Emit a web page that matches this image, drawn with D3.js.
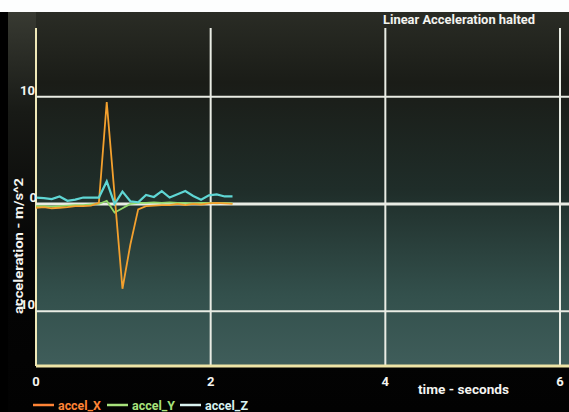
<!DOCTYPE html>
<html>
<head>
<meta charset="utf-8">
<script src="https://cdn.jsdelivr.net/npm/d3@7"></script>
<style>
  body { margin: 0; background: #000; }
  svg { display: block; }
  text { font-family: Roboto, "Liberation Sans", sans-serif; font-weight: bold; }
</style>
</head>
<body>
<div id="chart"></div>
<script>
// data
var times  = [0, 0.09, 0.18, 0.27, 0.36, 0.45, 0.54, 0.63, 0.72, 0.81, 0.90, 0.99, 1.08,
              1.17, 1.26, 1.35, 1.44, 1.53, 1.62, 1.71, 1.80, 1.89, 1.98, 2.07, 2.16, 2.25];
var accelX = [-0.35, -0.3, -0.4, -0.35, -0.3, -0.2, -0.2, -0.15, 0.1, 9.5, 0.8, -7.9, -3.8,
              -0.5, -0.2, -0.15, -0.1, -0.1, 0.0, -0.1, 0.0, -0.05, 0.05, 0.1, 0.05, 0.0];
var accelY = [-0.2, -0.2, -0.25, -0.2, -0.15, -0.1, -0.1, -0.05, 0.0, 0.3, -0.8, -0.4, 0.0,
              0.1, 0.1, 0.15, 0.1, 0.15, 0.1, 0.1, 0.05, 0.1, 0.1, 0.05, 0.1, 0.05];
var accelZ = [0.6, 0.55, 0.45, 0.7, 0.3, 0.4, 0.6, 0.6, 0.6, 2.1, 0.0, 1.15, 0.25,
              0.15, 0.85, 0.65, 1.2, 0.6, 0.9, 1.2, 0.75, 0.4, 0.8, 0.9, 0.7, 0.7];

var xTicks = [0, 2, 4, 6];
var yTicks = [-10, 0, 10];
var seriesNames = ["accel_X", "accel_Y", "accel_Z"];
var lineColors = ["#f3a02e", "#92d86a", "#5fd6d4"];
var legendColors = ["#ff8436", "#a8e27c", "#d9f2f0"];

var width = 569, height = 412;
var plot = { left: 36, right: 569, top: 12, bottom: 366 };

var svg = d3.select("#chart").append("svg")
    .attr("width", width)
    .attr("height", height);

var defs = svg.append("defs");
var gOut = defs.append("linearGradient").attr("id", "outerBg")
    .attr("x1", 0).attr("y1", 0).attr("x2", 0).attr("y2", 1);
gOut.append("stop").attr("offset", "0%").attr("stop-color", "#383a32");
gOut.append("stop").attr("offset", "25%").attr("stop-color", "#181a16");
gOut.append("stop").attr("offset", "60%").attr("stop-color", "#050505");
gOut.append("stop").attr("offset", "100%").attr("stop-color", "#020202");

var gPlot = defs.append("linearGradient").attr("id", "plotBg")
    .attr("x1", 0).attr("y1", 0).attr("x2", 0).attr("y2", 1);
gPlot.append("stop").attr("offset", "0%").attr("stop-color", "#2a2c25");
gPlot.append("stop").attr("offset", "20%").attr("stop-color", "#1a1c17");
gPlot.append("stop").attr("offset", "50%").attr("stop-color", "#1f2d29");
gPlot.append("stop").attr("offset", "80%").attr("stop-color", "#33504c");
gPlot.append("stop").attr("offset", "100%").attr("stop-color", "#3f5d5a");

// white strip at top of the photo, black bezel on the left
svg.append("rect").attr("x", 0).attr("y", 0).attr("width", width).attr("height", height).attr("fill", "#000");
svg.append("rect").attr("x", 8).attr("y", 12).attr("width", width - 8).attr("height", height - 12)
    .attr("fill", "url(#outerBg)");
svg.append("rect").attr("x", 0).attr("y", 0).attr("width", width).attr("height", 12).attr("fill", "#fdfefe");

svg.append("rect")
    .attr("x", plot.left).attr("y", plot.top)
    .attr("width", plot.right - plot.left).attr("height", plot.bottom - plot.top)
    .attr("fill", "url(#plotBg)");

var x = d3.scaleLinear().domain([0, 6]).range([36, 560]);
var y = d3.scaleLinear().domain([-15.1, 16.4]).range([366, 28]);

// grid
svg.selectAll(".vgrid").data(xTicks).enter().append("line")
    .attr("class", "vgrid")
    .attr("x1", d => x(d)).attr("x2", d => x(d))
    .attr("y1", y(16.4)).attr("y2", plot.bottom)
    .attr("stroke", d => d === 0 ? "#efe8b8" : "#e9ece4")
    .attr("stroke-width", 2);

svg.selectAll(".hgrid").data(yTicks).enter().append("line")
    .attr("class", "hgrid")
    .attr("x1", plot.left).attr("x2", plot.right)
    .attr("y1", d => y(d)).attr("y2", d => y(d))
    .attr("stroke", "#e9ece4")
    .attr("stroke-width", d => d === 0 ? 3 : 2);

// bottom axis line
svg.append("line")
    .attr("x1", plot.left).attr("x2", plot.right)
    .attr("y1", plot.bottom).attr("y2", plot.bottom)
    .attr("stroke", "#eee4a6").attr("stroke-width", 3);

// series
var allSeries = [accelX, accelY, accelZ];
var line = d3.line()
    .x((d, i) => x(times[i]))
    .y(d => y(d));

[1, 0, 2].forEach(function(k) {
    svg.append("path")
        .datum(allSeries[k])
        .attr("fill", "none")
        .attr("stroke", lineColors[k])
        .attr("stroke-width", k === 2 ? 2.2 : 1.8)
        .attr("stroke-linejoin", "miter")
        .attr("d", line);
});

// tick labels
svg.selectAll(".ylab").data(yTicks).enter().append("text")
    .attr("class", "ylab")
    .attr("x", d => d === 0 ? 37 : 35).attr("y", d => y(d) - 2)
    .attr("text-anchor", "end")
    .attr("fill", "#f4f4f0")
    .attr("font-size", 13)
    .text(d => d);

svg.selectAll(".xlab").data(xTicks).enter().append("text")
    .attr("class", "xlab")
    .attr("x", d => x(d)).attr("y", 386)
    .attr("text-anchor", "middle")
    .attr("fill", "#f4f4f0")
    .attr("font-size", 13)
    .text(d => d);

// titles
svg.append("text")
    .attr("x", 383).attr("y", 24)
    .attr("fill", "#f4f4f0")
    .attr("font-size", 12.5)
    .attr("textLength", 152)
    .attr("lengthAdjust", "spacingAndGlyphs")
    .text("Linear Acceleration halted");

svg.append("text")
    .attr("x", 418).attr("y", 394)
    .attr("fill", "#f4f4f0")
    .attr("font-size", 13)
    .attr("textLength", 91)
    .attr("lengthAdjust", "spacingAndGlyphs")
    .text("time - seconds");

svg.append("text")
    .attr("transform", "translate(23,246) rotate(-90)")
    .attr("text-anchor", "middle")
    .attr("fill", "#f4f4f0")
    .attr("font-size", 13)
    .attr("textLength", 136)
    .attr("lengthAdjust", "spacingAndGlyphs")
    .text("acceleration - m/s^2");

// legend
var legendX = [33, 107, 180];
var legend = svg.selectAll(".legend").data(seriesNames).enter().append("g")
    .attr("class", "legend")
    .attr("transform", (d, i) => "translate(" + legendX[i] + ",405)");
legend.append("line")
    .attr("x1", 0).attr("x2", 21)
    .attr("stroke", (d, i) => legendColors[i])
    .attr("stroke-width", 2.5);
legend.append("text")
    .attr("x", 25).attr("y", 5)
    .attr("fill", (d, i) => legendColors[i])
    .attr("font-size", 13)
    .attr("textLength", 43)
    .attr("lengthAdjust", "spacingAndGlyphs")
    .text(d => d);
</script>
</body>
</html>
